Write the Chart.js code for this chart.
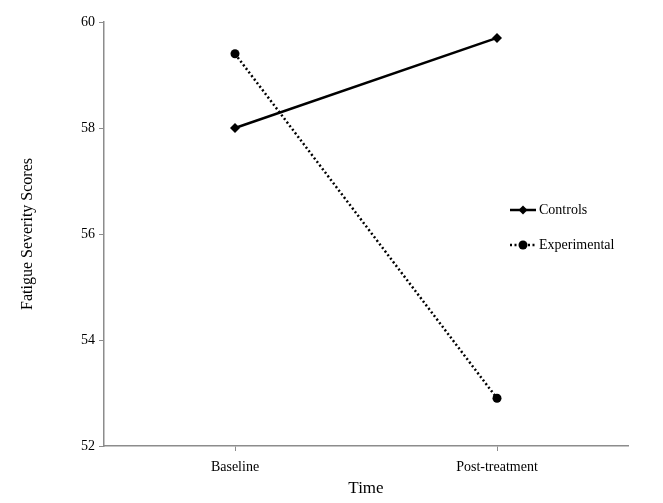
<!DOCTYPE html>
<html>
<head>
<meta charset="utf-8">
<script src="https://cdn.jsdelivr.net/npm/chart.js@4/dist/chart.umd.min.js"></script>
<style>
  html, body { margin: 0; padding: 0; background: #fff; }
  #wrap { width: 663px; height: 503px; }
</style>
</head>
<body>
<div id="wrap"><canvas id="myChart"></canvas></div>
<script>
'use strict';

const timeLabels = ['Baseline', 'Post-treatment'];
const controlsScores = [58.0, 59.7];
const experimentalScores = [59.4, 52.9];
const yTicks = [52, 54, 56, 58, 60];

const serif = '"Liberation Serif", "Times New Roman", serif';
const axisGray = '#8c8c8c';

// legend drawn by hand, sits inside the plot on the right
const sideLegend = {
  id: 'sideLegend',
  afterDraw(chart) {
    const ctx = chart.ctx;
    const items = chart.data.datasets;
    const x0 = 510, y0 = 210, gap = 35;
    ctx.save();
    items.forEach((ds, i) => {
      const y = y0 + i * gap;
      ctx.strokeStyle = '#000';
      ctx.lineWidth = 2.5;
      ctx.setLineDash(ds.borderDash || []);
      ctx.beginPath();
      ctx.moveTo(x0, y);
      ctx.lineTo(x0 + 26, y);
      ctx.stroke();
      ctx.setLineDash([]);
      ctx.fillStyle = '#000';
      ctx.beginPath();
      if (ds.pointStyle === 'rectRot') {
        ctx.moveTo(x0 + 13, y - 4.5);
        ctx.lineTo(x0 + 17.5, y);
        ctx.lineTo(x0 + 13, y + 4.5);
        ctx.lineTo(x0 + 8.5, y);
      } else {
        ctx.arc(x0 + 13, y, 4.5, 0, Math.PI * 2);
      }
      ctx.fill();
      ctx.font = '14px ' + serif;
      ctx.textBaseline = 'middle';
      ctx.fillText(ds.label, x0 + 29, y);
    });
    ctx.restore();
  }
};

new Chart(document.getElementById('myChart'), {
  type: 'line',
  data: {
    labels: timeLabels,
    datasets: [{
      label: 'Controls',
      data: controlsScores,
      borderColor: '#000',
      backgroundColor: '#000',
      borderWidth: 2.5,
      pointStyle: 'rectRot',
      pointRadius: 5,
      pointBorderWidth: 0
    }, {
      label: 'Experimental',
      data: experimentalScores,
      borderColor: '#000',
      backgroundColor: '#000',
      borderWidth: 2.5,
      borderDash: [2, 2.5],
      pointStyle: 'circle',
      pointRadius: 4.5,
      pointBorderWidth: 0
    }]
  },
  options: {
    responsive: true,
    maintainAspectRatio: false,
    animation: false,
    layout: { padding: { top: 22, right: 35, left: 0, bottom: 0 } },
    plugins: {
      legend: { display: false },
      tooltip: { enabled: false }
    },
    scales: {
      x: {
        offset: true,
        grid: { drawOnChartArea: false, drawTicks: true, tickLength: 5, color: axisGray, offset: false },
        border: { color: axisGray, width: 1.5 },
        ticks: { color: '#000', font: { family: serif, size: 14 }, padding: 8 },
        title: { display: true, text: 'Time', color: '#000', font: { family: serif, size: 17 }, padding: { top: 0 } },
        afterFit(scale) { scale.height = 57; }
      },
      y: {
        min: 52,
        max: 60,
        afterBuildTicks(scale) { scale.ticks = yTicks.map(v => ({ value: v })); },
        grid: { drawOnChartArea: false, drawTicks: true, tickLength: 5, color: axisGray },
        border: { color: axisGray, width: 1.5 },
        ticks: { color: '#000', font: { family: serif, size: 14 }, padding: 4 },
        title: { display: true, text: 'Fatigue Severity Scores', color: '#000', font: { family: serif, size: 16 }, padding: { top: 18 } },
        afterFit(scale) { scale.width = 104; }
      }
    }
  },
  plugins: [sideLegend]
});
</script>
</body>
</html>
